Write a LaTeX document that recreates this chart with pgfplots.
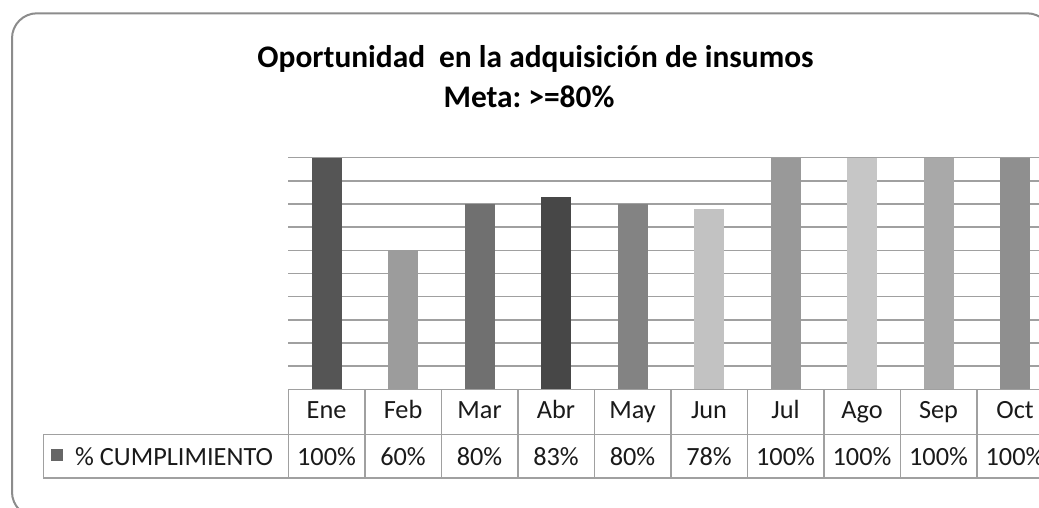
\documentclass[border=0pt]{standalone}
\usepackage{fontspec}
\setmainfont{Carlito}
\usepackage{pgfplots}
\usepackage{pgfplotstable}
\pgfplotsset{compat=1.18}
\definecolor{c0}{HTML}{555555}
\definecolor{c1}{HTML}{9C9C9C}
\definecolor{c2}{HTML}{707070}
\definecolor{c3}{HTML}{474747}
\definecolor{c4}{HTML}{838383}
\definecolor{c5}{HTML}{C2C2C2}
\definecolor{c6}{HTML}{999999}
\definecolor{c7}{HTML}{C6C6C6}
\definecolor{c8}{HTML}{A9A9A9}
\definecolor{c9}{HTML}{8F8F8F}
\definecolor{gridgray}{HTML}{A0A0A0}
\definecolor{bordergray}{HTML}{8C8C8C}
\definecolor{legendgray}{HTML}{666666}
\definecolor{txt}{HTML}{1A1A1A}
\pgfplotstableread{
x month val
0 Ene 100
1 Feb 60
2 Mar 80
3 Abr 83
4 May 80
5 Jun 78
6 Jul 100
7 Ago 100
8 Sep 100
9 Oct 100
}\datatable
\begin{document}
\frenchspacing
\begin{tikzpicture}[x=1pt,y=1pt]
\useasboundingbox (0,0) rectangle (1039,507);
\clip (0,0) rectangle (1039,507);
\fill[white] (0,0) rectangle (1039,507);
\draw[draw=bordergray, line width=2pt, rounded corners=25pt] (12,-10) rectangle (1052,493.7);
\begin{axis}[at={(288.3pt,117.7pt)}, anchor=south west, scale only axis,
  width=765pt, height=231.6pt, xmin=-0.5, xmax=9.5, ymin=0, ymax=100,
  ytick={0,10,...,100}, yticklabels={}, xtick=\empty,
  ymajorgrids, grid style={gridgray, line width=1.5pt},
  axis line style={draw=none}, major tick length=0pt,
  ybar, bar width=30pt, bar shift=0pt, clip=false]
\pgfplotsinvokeforeach{0,...,9}{
  \addplot[fill=c#1, draw=none] table[x=x, y=val,
    restrict expr to domain={\coordindex}{#1:#1}] {\datatable};
}
\end{axis}
% data table
\begin{scope}[gridgray, line width=1.5pt]
\draw (288.3,117.7) -- (1060,117.7);
\draw (43.3,72.7) -- (1060,72.7);
\draw (43.3,29) -- (1060,29);
\draw (43.3,29) -- (43.3,72.7);
\foreach \k in {0,...,10} \draw (288.3+76.5*\k,29) -- (288.3+76.5*\k,117.7);
\end{scope}
\begin{scope}[font=\fontsize{26.3}{30}\selectfont, text=txt]
\foreach \m [count=\i from 0] in {Ene,Feb,Mar,Abr,May,Jun,Jul,Ago,Sep,Oct}
  \node[anchor=base, inner sep=0pt] at (288.3+76.5*\i+38.25,88.7) {\m};
\foreach \v [count=\i from 0] in {100,60,80,83,80,78,100,100,100,100}
  \node[anchor=base, inner sep=0pt] at (288.3+76.5*\i+38.25,42) {\v\%};
\node[anchor=base west, inner sep=0pt] at (75,42) {\% CUMPLIMIENTO};
\end{scope}
\fill[legendgray] (51,46) rectangle (63,58);
% title
\node[anchor=base, inner sep=0pt, font=\bfseries\fontsize{31.4}{36}\selectfont] at (535.5,439.7) {Oportunidad\hspace{0.22em} en la adquisición de insumos};
\node[anchor=base, inner sep=0pt, font=\bfseries\fontsize{31.4}{36}\selectfont] at (529,399.7) {Meta: >=80\%};
\end{tikzpicture}
\end{document}
